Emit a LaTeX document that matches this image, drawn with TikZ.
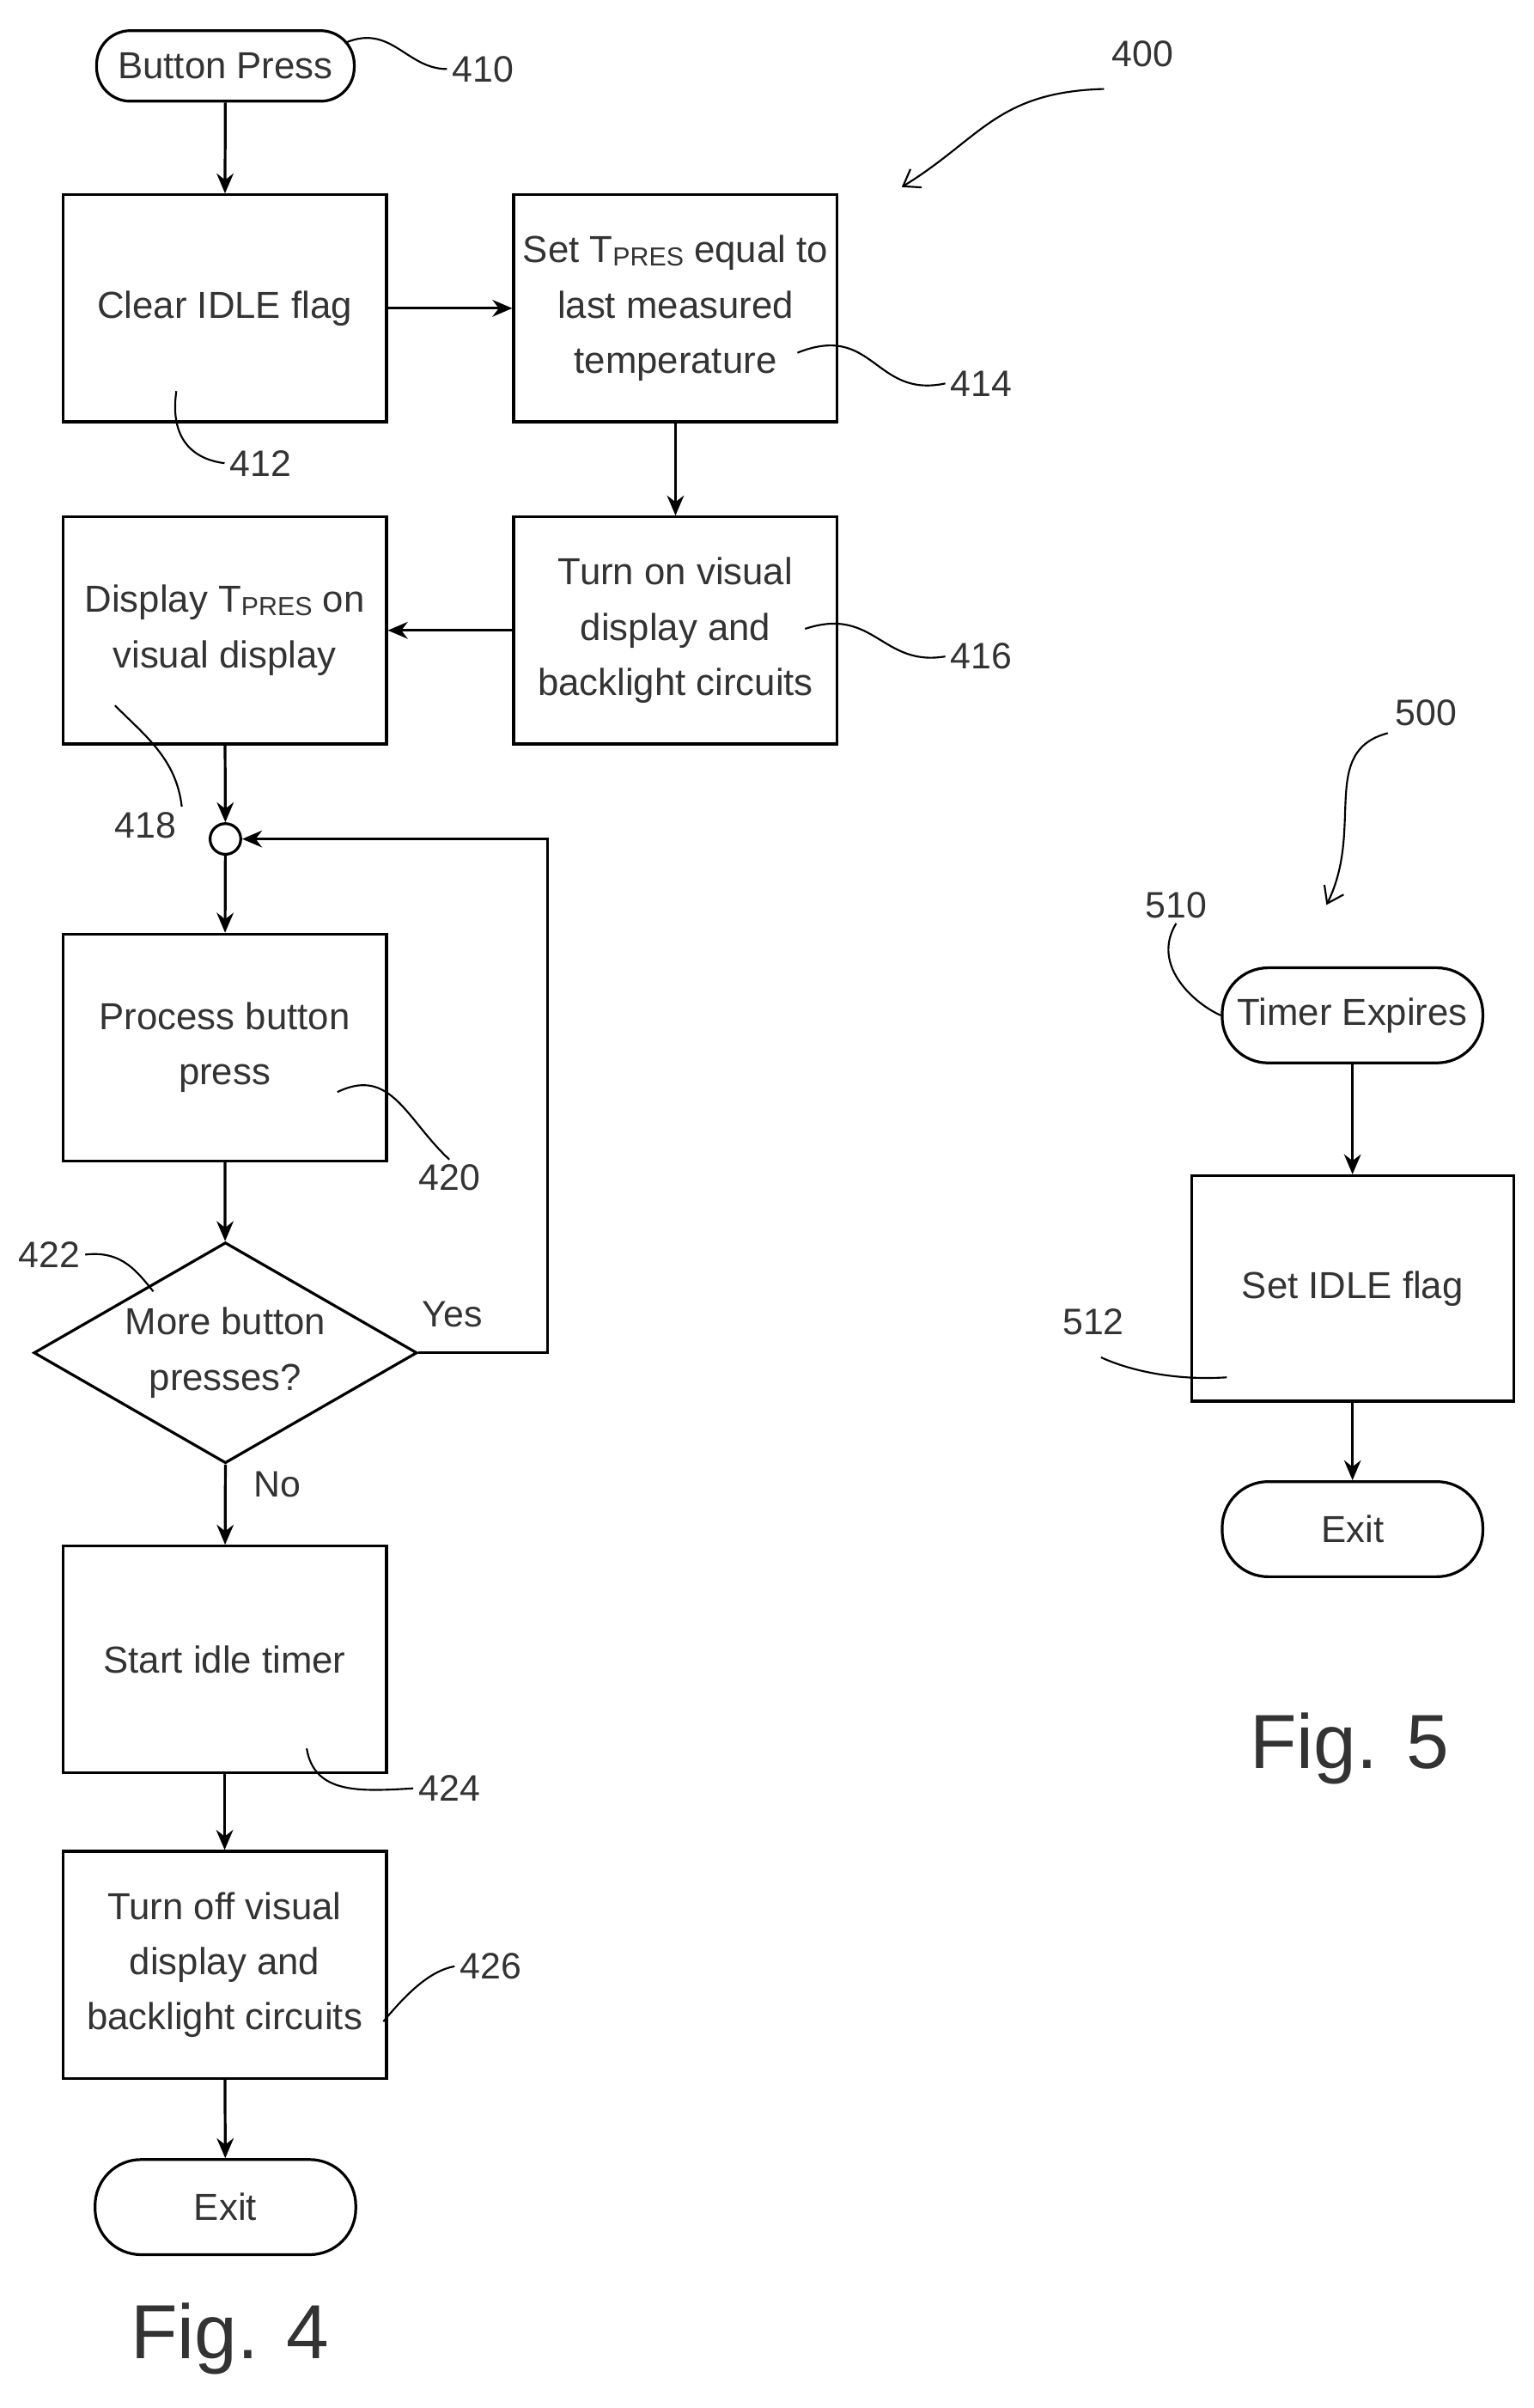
\documentclass[tikz,border=0pt]{standalone}
\usepackage{fontspec}
\setmainfont{Liberation Sans}
\usetikzlibrary{shapes.geometric,arrows.meta}
\newcommand{\tp}{T\raisebox{-0.15ex}{\fontsize{17}{17}\selectfont PRES}}
\begin{document}
\begin{tikzpicture}[x=1pt,y=-1pt,
  every node/.style={font=\fontsize{24.5}{36}\selectfont, text=black!80},
  box/.style={draw, line width=1.8pt, minimum width=211pt, minimum height=148pt, align=center, inner sep=0pt},
  term/.style={draw, line width=1.8pt, rounded corners=22pt, minimum width=168pt, minimum height=46pt, inner sep=0pt},
  term2/.style={draw, line width=1.8pt, rounded corners=30pt, minimum width=170pt, minimum height=62pt, inner sep=0pt},
  lab/.style={font=\fontsize{24}{26}\selectfont},
  arr/.style={line width=1.8pt, -{Stealth[length=13pt,width=11pt]}},
  sq/.style={line width=1.2pt},
  sqa/.style={line width=1.2pt, -{Straight Barb[length=10pt,width=14pt]}}]
\useasboundingbox (0,0) rectangle (1000,1570);
\node[term] (bp) at (147,43) {Button Press};
\node[box] (clr) at (146.5,201) {Clear IDLE flag};
\node[box] (set) at (440.5,201) {Set \tp{} equal to\\last measured\\temperature};
\node[box] (ton) at (440.5,411) {Turn on visual\\display and\\backlight circuits};
\node[box] (dsp) at (146.5,411) {Display \tp{} on\\visual display};
\node[circle, draw, line width=1.8pt, minimum size=20pt, inner sep=0pt] (jn) at (147,547) {};
\node[box] (prc) at (146.5,683) {Process button\\press};
\node[diamond, draw, line width=1.8pt, minimum width=250pt, minimum height=144pt, inner sep=0pt, aspect=1.73, align=center] (dia) at (147,882) {More button\\presses?};
\node[box] (idl) at (146.5,1082) {Start idle timer};
\node[box] (tof) at (146.5,1281) {Turn off visual\\display and\\backlight circuits};
\node[term2] (ex4) at (147,1439) {Exit};
\node[font=\fontsize{50}{50}\selectfont] (f4) at (150,1525) {Fig. 4};

\draw[arr] (bp) -- (clr);
\draw[arr] (clr) -- (set);
\draw[arr] (set) -- (ton);
\draw[arr] (ton) -- (dsp);
\draw[arr] (dsp) -- (jn);
\draw[arr] (jn) -- (prc);
\draw[arr] (prc) -- (dia);
\draw[arr] (dia.south) -- (idl);
\draw[arr] (idl) -- (tof);
\draw[arr] (tof) -- (ex4);
\coordinate (lp1) at (357,882);
\coordinate (lp2) at (357,547);
\draw[arr] (dia.east) -- (lp1) -- (lp2) -- (jn);
\node[lab] (yes) at (295,857) {Yes};
\node[lab] (no) at (181,968) {No};

\node[lab] (l410) at (315,45) {410};
\draw[sq] (225,28) .. controls (255,15) and (265,45) .. (l410.west);
\node[lab] (l412) at (170,302) {412};
\draw[sq] (115,255) .. controls (110,290) and (130,300) .. (l412.west);
\node[lab] (l414) at (640,250) {414};
\draw[sq] (520,230) .. controls (570,210) and (570,260) .. (l414.west);
\node[lab] (l416) at (640,428) {416};
\draw[sq] (525,410) .. controls (570,395) and (575,435) .. (l416.west);
\node[lab] (l418) at (95,538) {418};
\draw[sq] (75,460) .. controls (95,480) and (115,495) .. (l418.north east);
\node[lab] (l420) at (293,768) {420};
\draw[sq] (220,712) .. controls (255,695) and (265,730) .. (l420.north);
\node[lab] (l422) at (32,818) {422};
\draw[sq] (l422.east) .. controls (80,815) and (90,830) .. (100,842);
\node[lab] (l424) at (293,1166) {424};
\draw[sq] (200,1140) .. controls (205,1170) and (235,1168) .. (l424.west);
\node[lab] (l426) at (320,1282) {426};
\draw[sq] (250,1318) .. controls (265,1300) and (280,1285) .. (l426.west);
\node[lab] (l400) at (745,35) {400};
\draw[sqa] (720,58) .. controls (650,60) and (640,90) .. (588,122);

\node[term2] (tex) at (882,662) {Timer Expires};
\node[box, minimum width=210pt, minimum height=147pt] (sidl) at (882,840) {Set IDLE flag};
\node[term2] (ex5) at (882,997) {Exit};
\node[font=\fontsize{50}{50}\selectfont] (f5) at (880,1140) {Fig. 5};
\draw[arr] (tex) -- (sidl);
\draw[arr] (sidl) -- (ex5);
\node[lab] (l500) at (930,465) {500};
\draw[sqa] (905,478) .. controls (860,490) and (890,540) .. (865,590);
\node[lab] (l510) at (767,590) {510};
\draw[sq] (l510.south) .. controls (750,630) and (780,655) .. (tex.west);
\node[lab] (l512) at (713,862) {512};
\draw[sq] (718,885) .. controls (740,895) and (770,900) .. (800,898);
\end{tikzpicture}
\end{document}
